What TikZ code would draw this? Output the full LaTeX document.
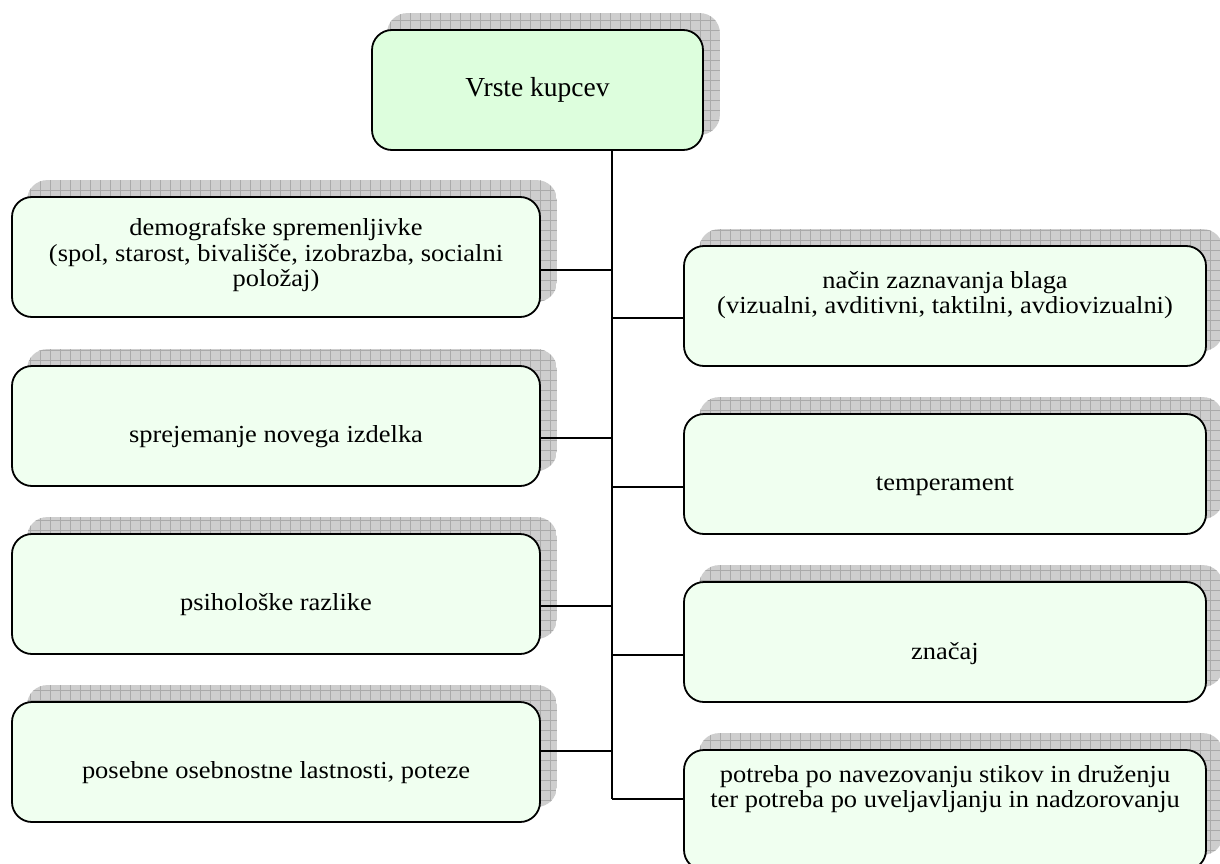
\documentclass[tikz,border=0pt]{standalone}
\usepackage{fontspec}
\setmainfont{Liberation Serif}
\definecolor{topfill}{RGB}{221,254,221}
\definecolor{boxfill}{RGB}{240,255,240}
\definecolor{shadowfill}{RGB}{206,206,206}
\definecolor{shadowgrid}{RGB}{170,170,170}
\pgfdeclarelayer{bg}
\pgfsetlayers{bg,main}
% grey hatched shadow behind a card, offset up and to the right
\newcommand\cardshadow[1]{%
  \begin{scope}
    \path[clip, rounded corners=20pt]
      ([shift={(16,-16)}]#1.south west) rectangle ([shift={(16,-16)}]#1.north east);
    \fill[shadowfill] ([shift={(16,-16)}]#1.south west) rectangle ([shift={(16,-16)}]#1.north east);
    \draw[shadowgrid, line width=0.5pt, step=10pt]
      ([shift={(16,-16)}]#1.south west) grid ([shift={(16,-16)}]#1.north east);
  \end{scope}}
\begin{document}
\begin{tikzpicture}[x=1pt,y=-1pt,
  card/.style={draw=black, line width=1.8pt, rounded corners=20pt,
    minimum width=#1, minimum height=120pt, inner sep=0pt, fill=boxfill},
  headcard/.style={card=#1, fill=topfill},
  cardtext/.style={align=center, inner sep=0pt, xscale=1.08, transform shape,
    font=\fontsize{24.5}{25.5}\selectfont},
  headtext/.style={align=center, inner sep=0pt,
    font=\fontsize{27.5}{30}\selectfont},
  conn/.style={draw=black, line width=1.4pt}]
\useasboundingbox (0,0) rectangle (1220,864);

% cards
\node[headcard=331pt] (top) at (537.5,90) {};
\node[card=528pt] (L1) at (276,257) {};
\node[card=528pt] (L2) at (276,426) {};
\node[card=528pt] (L3) at (276,594) {};
\node[card=528pt] (L4) at (276,762) {};
\node[card=522pt] (R1) at (945,306) {};
\node[card=522pt] (R2) at (945,474) {};
\node[card=522pt] (R3) at (945,642) {};
\node[card=522pt] (R4) at (945,810) {};

\begin{pgfonlayer}{bg}
  \foreach \c in {top,L1,L2,L3,L4,R1,R2,R3,R4} {\cardshadow{\c}}
\end{pgfonlayer}

% labels
\node[headtext] (topt) at (537.5,90) {Vrste kupcev};
\node[cardtext] (L1t) at (276,255) {demografske spremenljivke\\(spol, starost, bivališče, izobrazba, socialni\\položaj)};
\node[cardtext] (L2t) at (276,437) {sprejemanje novega izdelka};
\node[cardtext] (L3t) at (276,605) {psihološke razlike};
\node[cardtext] (L4t) at (276,773) {posebne osebnostne lastnosti, poteze};
\node[cardtext] (R1t) at (945,295) {način zaznavanja blaga\\(vizualni, avditivni, taktilni, avdiovizualni)};
\node[cardtext] (R2t) at (945,486) {temperament};
\node[cardtext] (R3t) at (945,654) {značaj};
\node[cardtext] (R4t) at (945,789) {potreba po navezovanju stikov in druženju\\ter potreba po uveljavljanju in nadzorovanju};

% junctions on the trunk line
\coordinate (jL1) at (612,270);
\coordinate (jR1) at (612,318);
\coordinate (jL2) at (612,438);
\coordinate (jR2) at (612,487);
\coordinate (jL3) at (612,606);
\coordinate (jR3) at (612,655);
\coordinate (jL4) at (612,751);
\coordinate (jR4) at (612,799);

% connectors
\draw[conn] (top.south -| jL1) -- (jR4);
\foreach \j/\b in {L1/L1,L2/L2,L3/L3,L4/L4} {\draw[conn] (j\j) -- (j\j -| \b.east);}
\foreach \j/\b in {R1/R1,R2/R2,R3/R3,R4/R4} {\draw[conn] (j\j) -- (j\j -| \b.west);}
\end{tikzpicture}
\end{document}
